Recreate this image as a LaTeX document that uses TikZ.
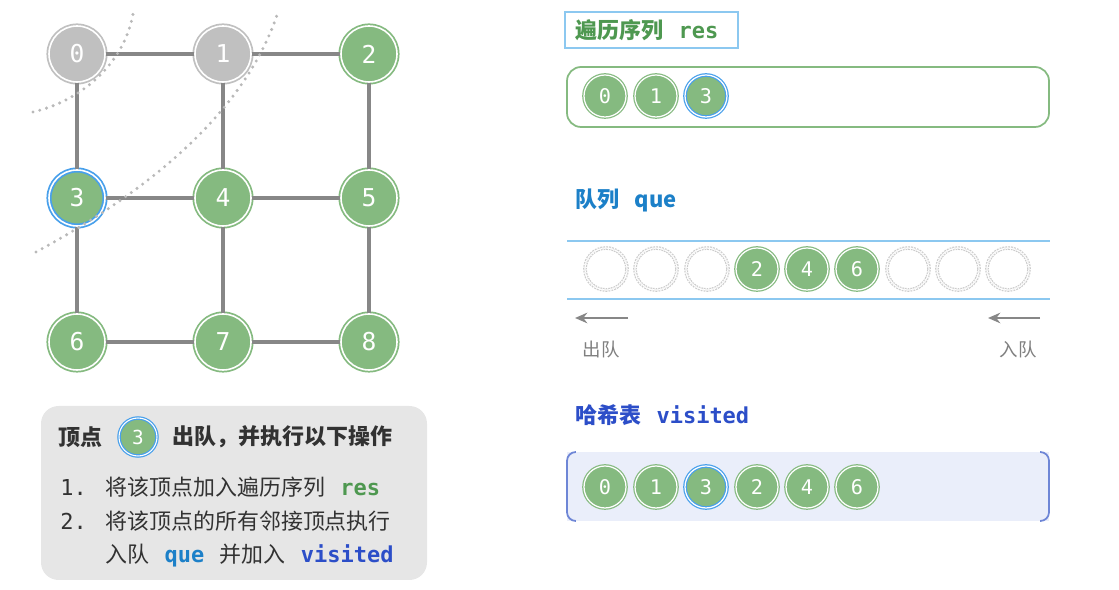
\documentclass[tikz,border=0pt]{standalone}
\usepackage{fontspec}
\setmainfont{Noto Sans CJK SC}
\setmonofont{DejaVu Sans Mono}
\definecolor{nodeGreen}{RGB}{133,186,128}
\definecolor{nodeGrey}{RGB}{192,192,192}
\definecolor{ringBlue}{RGB}{72,160,235}
\definecolor{edgeGrey}{RGB}{135,135,135}
\definecolor{resGreen}{RGB}{78,152,80}
\definecolor{queBlue}{RGB}{28,128,200}
\definecolor{visBlue}{RGB}{44,78,200}
\definecolor{panelGrey}{RGB}{230,230,230}
\definecolor{hashFill}{RGB}{234,238,250}
\definecolor{hashEdge}{RGB}{110,134,214}
\definecolor{lineBlue}{RGB}{140,200,240}
\definecolor{textDark}{RGB}{50,50,50}
\usetikzlibrary{arrows.meta, positioning}
\newcommand{\gap}{\hspace{0.7em}}

\begin{document}
\begin{tikzpicture}[x=0.02cm, y=-0.02cm,
    vertex/.style={circle, minimum size=1.12cm, inner sep=0pt, fill=nodeGreen, draw=nodeGreen,
        line width=1pt, double=white, double distance=0.9pt, text=white,
        font=\ttfamily\fontsize{14}{14}\selectfont},
    small/.style={vertex, minimum size=0.84cm, line width=0.7pt, double distance=0.7pt,
        font=\ttfamily\fontsize{11.5}{11.5}\selectfont},
    done/.style={fill=nodeGrey, draw=nodeGrey},
    current/.style={draw=ringBlue},
    slot/.style={small, fill=none, draw=gray!40, dash pattern=on 1pt off 0.6pt},
    edge/.style={edgeGrey, line width=2pt},
    frontier/.style={gray!55, line width=1.9pt, line cap=round, dash pattern=on 0pt off 4pt},
    label/.style={anchor=west, inner sep=0pt, text=textDark, font=\fontsize{12.5}{14}\selectfont},
    heading/.style={anchor=west, inner sep=0pt, font=\bfseries\fontsize{12.5}{14}\selectfont}]
    \useasboundingbox (0,0) rectangle (1119,590);

    % Graph vertices
    \node[vertex, done] (v0) at (77,54) {0};
    \node[vertex, done] (v1) at (223,54) {1};
    \node[vertex] (v2) at (369,54) {2};
    \node[vertex, current] (v3) at (77,198) {3};
    \node[vertex] (v4) at (223,198) {4};
    \node[vertex] (v5) at (369,198) {5};
    \node[vertex] (v6) at (77,342) {6};
    \node[vertex] (v7) at (223,342) {7};
    \node[vertex] (v8) at (369,342) {8};

    % Graph edges
    \draw[edge] (v0) -- (v1);
    \draw[edge] (v1) -- (v2);
    \draw[edge] (v0) -- (v3);
    \draw[edge] (v1) -- (v4);
    \draw[edge] (v2) -- (v5);
    \draw[edge] (v3) -- (v4);
    \draw[edge] (v4) -- (v5);
    \draw[edge] (v3) -- (v6);
    \draw[edge] (v4) -- (v7);
    \draw[edge] (v5) -- (v8);
    \draw[edge] (v6) -- (v7);
    \draw[edge] (v7) -- (v8);

    % BFS frontiers
    \draw[frontier] (33,112) .. controls (85,100) and (125,60) .. (133,14);
    \draw[frontier] (36,252) .. controls (160,185) and (248,105) .. (278,12);

    % Step panel
    \fill[panelGrey, rounded corners=10pt] (41,406) rectangle (427,580);
    \node[label, font=\bfseries\fontsize{12.5}{14}\selectfont] (stepA) at (58,437) {顶点};
    \node[vertex, current, minimum size=0.76cm, line width=0.7pt, double distance=0.6pt,
        font=\ttfamily\fontsize{11}{11}\selectfont] (stepV) at (138,437) {3};
    \node[label, font=\bfseries\fontsize{12.5}{14}\selectfont] (stepB) at (172,437) {出队，并执行以下操作};
    \node[label, font=\ttfamily\fontsize{12.5}{14}\selectfont] (num1) at (60,487) {1.};
    \node[label] (line1) at (105,487) {将该顶点加入遍历序列\gap{\ttfamily\bfseries\color{resGreen}res}};
    \node[label, font=\ttfamily\fontsize{12.5}{14}\selectfont] (num2) at (60,521) {2.};
    \node[label] (line2) at (105,521) {将该顶点的所有邻接顶点执行};
    \node[label] (line3) at (105,556) {入队\gap{\ttfamily\bfseries\color{queBlue}que}\gap 并加入\gap{\ttfamily\bfseries\color{visBlue}visited}};

    % Result sequence res
    \draw[lineBlue, line width=1pt] (565,12) rectangle (738,48);
    \node[heading, text=resGreen] (resT) at (575,30) {遍历序列\gap{\ttfamily res}};
    \draw[nodeGreen, line width=1pt, rounded corners=8pt] (567,67) rectangle (1049,127);
    \node[small] (r0) at (605,96) {0};
    \node[small] (r1) at (656,96) {1};
    \node[small, current] (r3) at (706,96) {3};

    % Queue que
    \node[heading, text=queBlue] (queT) at (575,200) {队列\gap que};
    \draw[lineBlue, line width=1pt] (567,241) -- (1050,241);
    \draw[lineBlue, line width=1pt] (567,299) -- (1050,299);
    \node[slot] (q1) at (606,269) {};
    \node[slot] (q2) at (656,269) {};
    \node[slot] (q3) at (707,269) {};
    \node[small] (q4) at (757,269) {2};
    \node[small] (q5) at (807,269) {4};
    \node[small] (q6) at (857,269) {6};
    \node[slot] (q7) at (908,269) {};
    \node[slot] (q8) at (958,269) {};
    \node[slot] (q9) at (1008,269) {};
    \coordinate (popA) at (628,318);
    \coordinate (popB) at (575,318);
    \coordinate (pushA) at (1040,318);
    \coordinate (pushB) at (988,318);
    \draw[edgeGrey, line width=1.6pt, -{Stealth[length=7pt, width=6pt]}] (popA) -- (popB);
    \draw[edgeGrey, line width=1.6pt, -{Stealth[length=7pt, width=6pt]}] (pushA) -- (pushB);
    \node[text=gray, font=\fontsize{10.5}{12}\selectfont] (popT) at (601,350) {出队};
    \node[text=gray, font=\fontsize{10.5}{12}\selectfont] (pushT) at (1018,350) {入队};

    % Hash set visited
    \node[heading, text=visBlue] (visT) at (575,415) {哈希表\gap{\ttfamily visited}};
    \fill[hashFill] (567,452) rectangle (1049,521);
    \draw[hashEdge, line width=1pt, rounded corners=5pt] (575,452) -- (567,452) -- (567,521) -- (575,521);
    \draw[hashEdge, line width=1pt, rounded corners=5pt] (1041,452) -- (1049,452) -- (1049,521) -- (1041,521);
    \node[small] (h0) at (605,487) {0};
    \node[small] (h1) at (656,487) {1};
    \node[small, current] (h3) at (706,487) {3};
    \node[small] (h2) at (757,487) {2};
    \node[small] (h4) at (807,487) {4};
    \node[small] (h6) at (857,487) {6};
\end{tikzpicture}
\end{document}
